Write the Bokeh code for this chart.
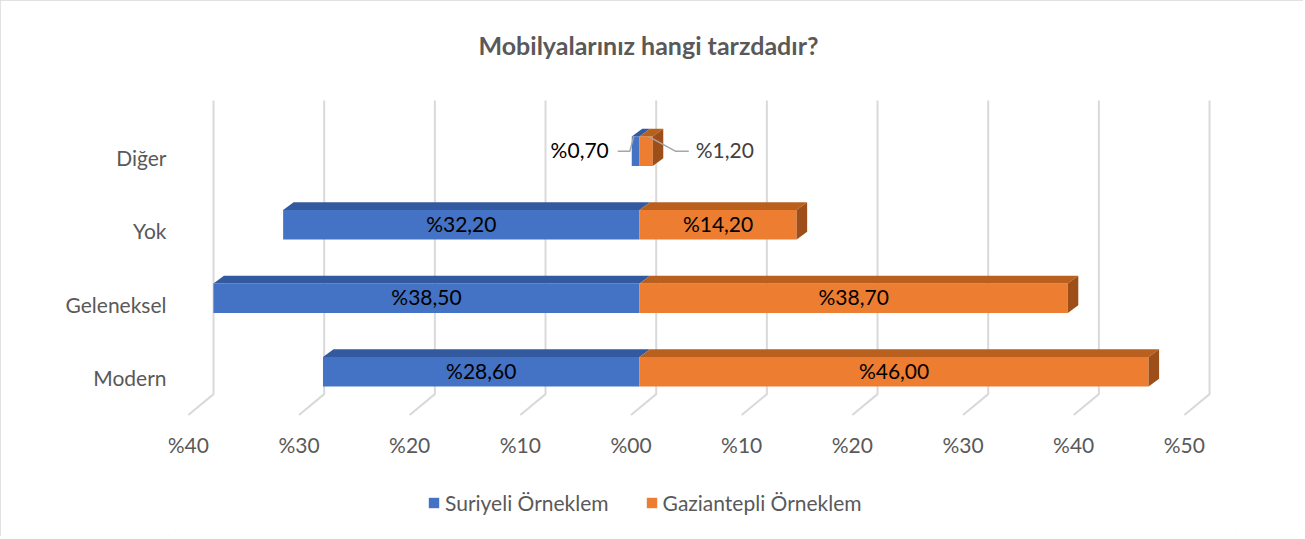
from bokeh.plotting import figure
from bokeh.models import (Range1d, LinearAxis, FixedTicker, Legend, LegendItem,
                          ColumnDataSource)
from bokeh.core.properties import value
from bokeh.embed import file_html
from bokeh.resources import INLINE

# ---------------- data ----------------
categories = ["Modern", "Geleneksel", "Yok", "Diğer"]
suriyeli = [28.6, 38.5, 32.2, 0.7]          # drawn to the left (negative side)
gaziantepli = [46.0, 38.7, 14.2, 1.2]       # drawn to the right
suriyeli_labels = ["%28,60", "%38,50", "%32,20", "%0,70"]
gaziantepli_labels = ["%46,00", "%38,70", "%14,20", "%1,20"]
tick_values = [-40, -30, -20, -10, 0, 10, 20, 30, 40, 50]
tick_labels = ["%40", "%30", "%20", "%10", "%00", "%10", "%20", "%30", "%40", "%50"]
title_text = "Mobilyalarınız hangi tarzdadır?"
series_names = ["Suriyeli Örneklem", "Gaziantepli Örneklem"]

# ---------------- style ----------------
FONT = "Lato"
GRAY = "#595959"
BLUE, BLUE_TOP = "#4472C4", "#33599E"
ORANGE, ORANGE_TOP, ORANGE_SIDE = "#ED7D31", "#B9601F", "#9E4F19"
GRID = "#D9D9D9"

W, H = 1303, 536
BL, BR, BT = 168, 68, 88
FW, FH = W - BL - BR, H - BT
PX = 11.067          # px per x unit
PY = 73.8            # px per category
x_start = -471 / PX
x_end = x_start + FW / PX
y_start = -159.5 / PY
y_end = y_start + FH / PY

def dx(px):
    return px / PX

def dy(px):
    return px / PY

DEPTH_X, DEPTH_Y = dx(10.5), dy(7.8)
HALF = dy(14.8)

p = figure(width=W, height=H, output_backend="svg", toolbar_location=None,
           x_range=Range1d(x_start, x_end), y_range=Range1d(y_start, y_end),
           x_axis_location=None, min_border_left=BL, min_border_right=BR,
           min_border_top=BT, min_border_bottom=0)
p.styles = {"outline": "1px solid #D9D9D9", "outline-offset": "-1px"}
p.outline_line_color = None
p.xgrid.visible = False
p.ygrid.visible = False
p.background_fill_color = "white"
p.border_fill_color = "white"

# title
p.title.text = title_text
p.title.align = "left"
p.title.offset = 310
p.title.vertical_align = "top"
p.title.text_font = FONT
p.title.text_font_style = "bold"
p.title.text_font_size = "25px"
p.title.text_color = GRAY
p.title.standoff = 58

# ---------------- 3D-ish gridlines (back wall + floor) ----------------
floor_front = y_start + dy(122)
floor_back = floor_front + dy(21)
grid_top = floor_front + dy(316)
gx, gy = [], []
for v in tick_values:
    xb = v + dx(16.7)
    xf = v - dx(8.5)
    gx.append([xf, xb, xb])
    gy.append([floor_front, floor_back, grid_top])
p.multi_line(gx, gy, line_color=GRID, line_width=2)

# ---------------- bars ----------------
yc = [i + dy(6) for i in range(len(categories))]
left = [-s for s in suriyeli]
zeros = [0] * len(categories)
bottoms = [c - HALF for c in yc]
tops = [c + HALF for c in yc]

blue_front = p.quad(left=left, right=zeros, bottom=bottoms, top=tops,
                    fill_color=BLUE, line_color=None)
p.patches([[l, 0, DEPTH_X, l + DEPTH_X] for l in left],
          [[t, t, t + DEPTH_Y, t + DEPTH_Y] for t in tops],
          fill_color=BLUE_TOP, line_color=None)

orange_front = p.quad(left=zeros, right=gaziantepli, bottom=bottoms, top=tops,
                      fill_color=ORANGE, line_color=None)
p.patches([[0, g, g + DEPTH_X, DEPTH_X] for g in gaziantepli],
          [[t, t, t + DEPTH_Y, t + DEPTH_Y] for t in tops],
          fill_color=ORANGE_TOP, line_color=None)
p.patches([[g, g, g + DEPTH_X, g + DEPTH_X] for g in gaziantepli],
          [[b, t, t + DEPTH_Y, b + DEPTH_Y] for b, t in zip(bottoms, tops)],
          fill_color=ORANGE_SIDE, line_color=None)

# ---------------- data labels ----------------
inside = [i for i in range(len(categories)) if suriyeli[i] > 5]
src_in = ColumnDataSource(dict(
    x=[-suriyeli[i] / 2 for i in inside] + [gaziantepli[i] / 2 for i in inside],
    y=[yc[i] + dy(1.5) for i in inside] * 2,
    t=[suriyeli_labels[i] for i in inside] + [gaziantepli_labels[i] for i in inside]))
p.text("x", "y", text="t", source=src_in, text_align="center",
       text_baseline="middle", text_font=value(FONT), text_font_size="21px",
       text_color="#000000")

# small category: labels outside with leader lines
k = len(categories) - 1
s, g, c = suriyeli[k], gaziantepli[k], yc[k]
p.multi_line([[-s - dx(14), -s - dx(2), -s + dx(2)],
              [g + dx(36), g + dx(23), g - dx(4)]],
             [[c, c, c + HALF], [c, c, c + HALF]],
             line_color="#A6A6A6", line_width=1.5)
p.text([-s - dx(23)], [c + dy(1.5)], text=[suriyeli_labels[k]], text_align="right",
       text_baseline="middle", text_font=value(FONT), text_font_size="21px",
       text_color="#000000")
p.text([g + dx(43)], [c + dy(1.5)], text=[gaziantepli_labels[k]], text_align="left",
       text_baseline="middle", text_font=value(FONT), text_font_size="21px",
       text_color="#404040")

# ---------------- axes ----------------
p.extra_x_ranges = {"front": Range1d(x_start + dx(8.5), x_end + dx(8.5))}
xaxis = LinearAxis(x_range_name="front",
                   ticker=FixedTicker(ticks=tick_values),
                   major_label_overrides={v: l for v, l in zip(tick_values, tick_labels)},
                   fixed_location=y_start + dy(80))
xaxis.axis_line_color = None
xaxis.major_tick_line_color = None
xaxis.minor_tick_line_color = None
xaxis.major_tick_out = 0
xaxis.major_tick_in = 0
xaxis.major_label_standoff = 0
xaxis.major_label_text_font = FONT
xaxis.major_label_text_font_size = "21px"
xaxis.major_label_text_color = GRAY
p.add_layout(xaxis, "above")

ya = p.yaxis[0]
ya.ticker = FixedTicker(ticks=list(range(len(categories))))
ya.major_label_overrides = {i: c for i, c in enumerate(categories)}
ya.axis_line_color = None
ya.major_tick_line_color = None
ya.minor_tick_line_color = None
ya.major_tick_out = 0
ya.major_label_standoff = 2
ya.major_label_text_font = FONT
ya.major_label_text_font_size = "21px"
ya.major_label_text_color = GRAY

# ---------------- legend ----------------
legend = Legend(items=[LegendItem(label=series_names[0], renderers=[blue_front]),
                       LegendItem(label=series_names[1], renderers=[orange_front])],
                orientation="horizontal", location=(259, 21),
                glyph_width=13, glyph_height=13, label_standoff=5, spacing=36,
                label_text_font=FONT, label_text_font_size="21px",
                label_text_color=GRAY, border_line_color=None,
                background_fill_alpha=0, padding=0, margin=0)
p.add_layout(legend)

open("out.html", "w").write(file_html(p, INLINE))
